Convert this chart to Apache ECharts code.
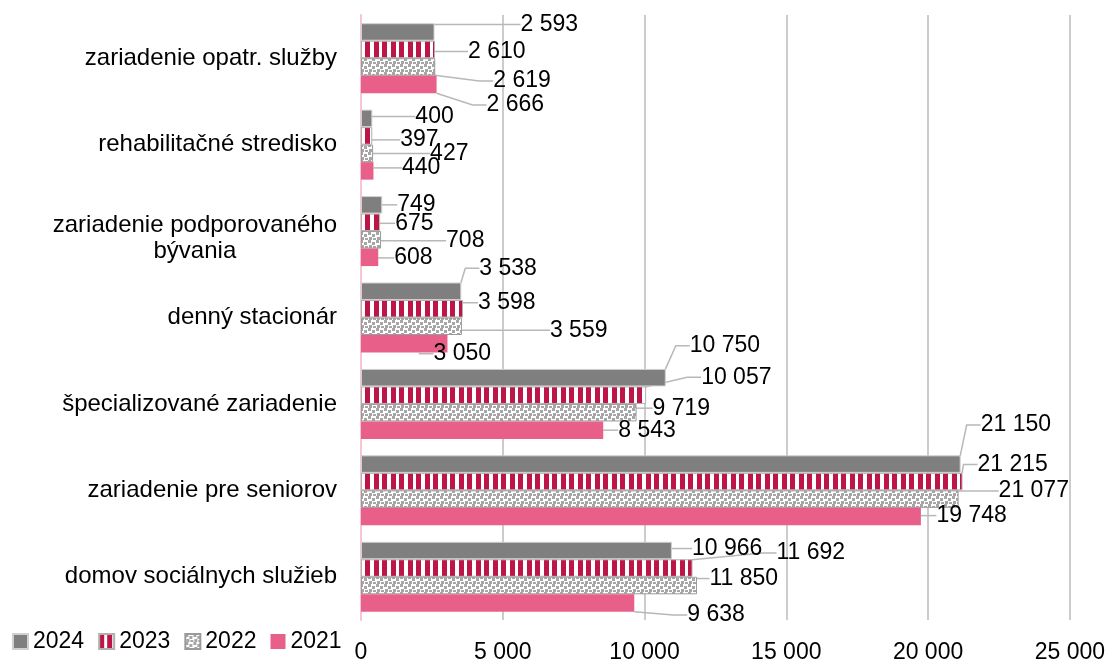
<!DOCTYPE html>
<html>
<head>
<meta charset="utf-8">
<script src="https://cdn.jsdelivr.net/npm/echarts@6/dist/echarts.min.js"></script>
<style>
html,body{margin:0;padding:0;background:#fff;}
#chart{width:1108px;height:666px;}
</style>
</head>
<body>
<div id="chart"></div>
<script>
// Categories from bottom (index 0) to top
const categories = [
  'domov sociálnych služieb',
  'zariadenie pre seniorov',
  'špecializované zariadenie',
  'denný stacionár',
  'zariadenie podporovaného\nbývania',
  'rehabilitačné stredisko',
  'zariadenie opatr. služby'
];
const seriesNames = ['2024', '2023', '2022', '2021'];
const values2024 = [10966, 21150, 10750, 3538, 749, 400, 2593];
const values2023 = [11692, 21215, 10057, 3598, 675, 397, 2610];
const values2022 = [11850, 21077, 9719, 3559, 708, 427, 2619];
const values2021 = [9638, 19748, 8543, 3050, 608, 440, 2666];
const xTicks = [0, 5000, 10000, 15000, 20000, 25000];

// label displacement (dx, dy) relative to default 'right' position, per category
const labelShift = {
  '2024': [[15,-2],[15,-39],[19,-32],[13,-23],[10,0],[38,-2],[81,-7.5]],
  '2023': [[79,-15],[10,-17],[50,-18],[10,-6],[10,1],[23,4],[28,2]],
  '2022': [[7.5,-7],[35,-8],[11,-4.5],[83,4],[60,1],[52,0],[53,14]],
  '2021': [[48,12],[10.5,-1],[10,0],[-19,10],[11,0.6],[23.5,-3],[45,20.5]]
};

function fmt(v){ return String(v).replace(/\B(?=(\d{3})+(?!\d))/g, ' '); }

function stripePattern(){
  const c = document.createElement('canvas');
  c.width = 17; c.height = 8;
  const g = c.getContext('2d');
  g.fillStyle = '#ffffff'; g.fillRect(0,0,17,8);
  g.fillStyle = '#BE1548';
  g.fillRect(0,0,5,8);
  g.fillRect(8,0,5,8);
  return c;
}
function confettiPattern(){
  const c = document.createElement('canvas');
  c.width = 8; c.height = 8;
  const g = c.getContext('2d');
  g.fillStyle = '#ffffff'; g.fillRect(0,0,8,8);
  g.fillStyle = '#a6a6a6';
  g.fillRect(0,0,3,3);
  g.fillRect(4,2,3,3);
  g.fillRect(1,5,3,3);
  g.fillRect(5,6,3,2);
  return c;
}

const FONT = '"Liberation Sans", Arial, sans-serif';

const styles = {
  '2024': { color: '#7f7f7f', borderColor: '#d0d0d0', borderWidth: 1 },
  '2023': { color: { image: stripePattern(), repeat: 'repeat' }, borderColor: '#b0b0b0', borderWidth: 1 },
  '2022': { color: { image: confettiPattern(), repeat: 'repeat' }, borderColor: '#9a9a9a', borderWidth: 1 },
  '2021': { color: '#E8608A' }
};
const dataBySeries = { '2024': values2024, '2023': values2023, '2022': values2022, '2021': values2021 };

const series = seriesNames.map(name => ({
  name: name,
  type: 'bar',
  data: dataBySeries[name],
  barGap: '0%',
  barCategoryGap: '19%',
  itemStyle: styles[name],
  label: {
    show: true,
    position: 'right',
    distance: 5,
    formatter: p => fmt(p.value),
    fontFamily: FONT,
    fontSize: 23,
    color: '#000'
  },
  labelLine: {
    show: true,
    length2: 14,
    lineStyle: { color: '#b8b8b8', width: 1.5 }
  },
  labelLayout: function(p){
    const s = labelShift[name][p.dataIndex];
    return { dx: s[0], dy: s[1] };
  }
}));

const chart = echarts.init(document.getElementById('chart'), null, { renderer: 'canvas' });
chart.setOption({
  animation: false,
  backgroundColor: '#fff',
  grid: { left: 361, right: 38, top: 15, bottom: 46, containLabel: false },
  legend: {
    data: seriesNames,
    left: 7,
    top: 625,
    itemWidth: 15,
    itemHeight: 15,
    itemGap: 14,
    icon: 'rect',
    textStyle: { fontFamily: FONT, fontSize: 23, color: '#000' }
  },
  xAxis: {
    type: 'value',
    min: xTicks[0],
    max: xTicks[xTicks.length - 1],
    interval: 5000,
    axisLine: { show: false },
    axisTick: { show: false },
    splitLine: { show: true, showMinLine: false, lineStyle: { color: '#cccccc', width: 2 } },
    axisLabel: {
      formatter: v => fmt(v),
      fontFamily: FONT,
      fontSize: 23,
      color: '#000',
      margin: 21
    }
  },
  yAxis: {
    type: 'category',
    data: categories,
    axisLine: { show: true, lineStyle: { color: '#f7c6d3', width: 2 } },
    axisTick: { show: false },
    axisLabel: {
      fontFamily: FONT,
      fontSize: 24,
      color: '#000',
      margin: 24,
      lineHeight: 26,
      formatter: function(v){
        const parts = v.split('\n');
        if (parts.length === 1) return '{c|' + v + '}';
        return '{s|}\n' + parts.map(t => '{c|' + t + '}').join('\n');
      },
      rich: {
        c: { align: 'center', fontFamily: FONT, fontSize: 24, color: '#000', lineHeight: 26 },
        s: { fontSize: 10, lineHeight: 14 }
      }
    }
  },
  series: series
});
</script>
</body>
</html>
